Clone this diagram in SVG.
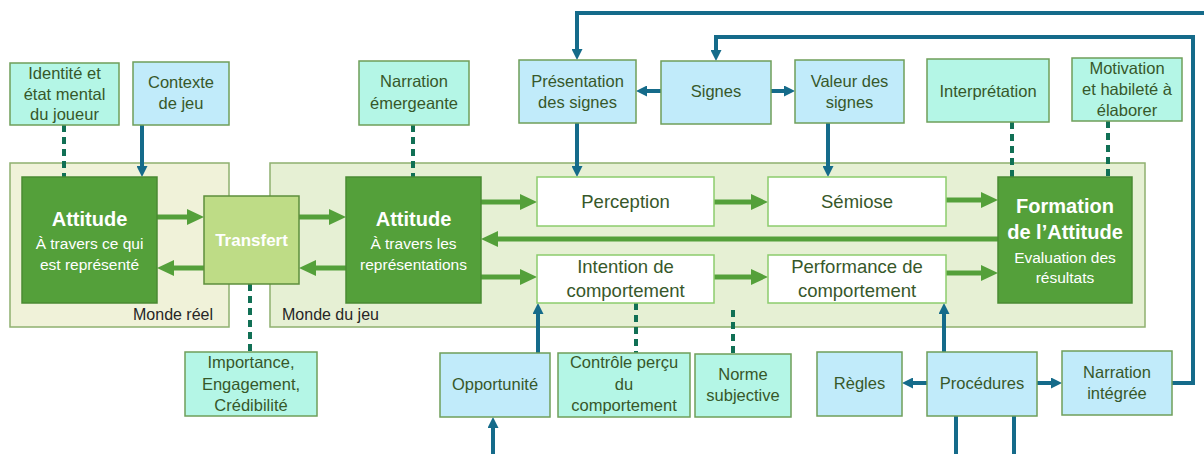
<svg xmlns="http://www.w3.org/2000/svg" width="1204" height="454" viewBox="0 0 1204 454">
<style>
text{font-family:"Liberation Sans",Arial,sans-serif;text-anchor:middle}
.mint{fill:#b4f6e6;stroke:#6f9f5a;stroke-width:1.5}
.blue{fill:#c1ebfa;stroke:#6f9f5a;stroke-width:1.5}
.dark{fill:#54a03a;stroke:#4a8a33;stroke-width:1.5}
.white{fill:#ffffff;stroke:#8ccc6c;stroke-width:1.5}
.t{font-size:16.5px;fill:#37582a}
.m{font-size:18.5px;fill:#37582a}
.h{font-size:20px;font-weight:bold;fill:#ffffff}
.s{font-size:15.5px;fill:#ffffff}
.lbl{font-size:16px;fill:#262626;text-anchor:start}
.g{stroke:#54a03a;stroke-width:5;fill:none}
.b{stroke:#156b8a;stroke-width:4;fill:none}
.d{stroke:#117055;stroke-width:4;fill:none;stroke-dasharray:7 5}
</style>
<defs>
<marker id="ag" markerUnits="userSpaceOnUse" markerWidth="17" markerHeight="16" viewBox="0 0 17 16" refX="1" refY="8" orient="auto"><path d="M0,0 L17,8 L0,16 z" fill="#54a03a"/></marker>
<marker id="ab" markerUnits="userSpaceOnUse" markerWidth="11" markerHeight="11" viewBox="0 0 11 11" refX="1" refY="5.5" orient="auto"><path d="M0,0 L11,5.5 L0,11 z" fill="#156b8a"/></marker>
</defs>
<g id="monde-reel"><rect x="10" y="163" width="219" height="164" fill="#f0f2d9" stroke="#8fb06f" stroke-width="1.5"/><text class="lbl" x="133" y="320">Monde réel</text></g>
<g id="monde-jeu"><rect x="270" y="163" width="875" height="164" fill="#e6f0d4" stroke="#8fb06f" stroke-width="1.5"/><text class="lbl" x="282" y="320">Monde du jeu</text></g>
<g id="connectors">
<path class="g" d="M157,217 H188" marker-end="url(#ag)"/>
<path class="g" d="M204,268 H173" marker-end="url(#ag)"/>
<path class="g" d="M299,217 H330" marker-end="url(#ag)"/>
<path class="g" d="M346,268 H315" marker-end="url(#ag)"/>
<path class="g" d="M481,202 H521" marker-end="url(#ag)"/>
<path class="g" d="M481,277 H521" marker-end="url(#ag)"/>
<path class="g" d="M714,202 H752" marker-end="url(#ag)"/>
<path class="g" d="M714,277 H752" marker-end="url(#ag)"/>
<path class="g" d="M946,200 H982" marker-end="url(#ag)"/>
<path class="g" d="M946,273 H982" marker-end="url(#ag)"/>
<path class="g" d="M998,239 H497" marker-end="url(#ag)"/>
<path class="b" d="M142,125 V167" marker-end="url(#ab)"/>
<path class="b" d="M577,123 V167" marker-end="url(#ab)"/>
<path class="b" d="M828,123 V167" marker-end="url(#ab)"/>
<path class="b" d="M661,91 H646" marker-end="url(#ab)"/>
<path class="b" d="M771,91 H785" marker-end="url(#ab)"/>
<path class="b" d="M1204,13 H577 V50" marker-end="url(#ab)"/>
<path class="b" d="M1172,383 H1193 V37 H716 V51" marker-end="url(#ab)"/>
<path class="b" d="M538,353 V313" marker-end="url(#ab)"/>
<path class="b" d="M493,454 V427" marker-end="url(#ab)"/>
<path class="b" d="M944,352 V313" marker-end="url(#ab)"/>
<path class="b" d="M927,383 H912" marker-end="url(#ab)"/>
<path class="b" d="M1037,383 H1052" marker-end="url(#ab)"/>
<path class="b" d="M956,416 V454"/>
<path class="b" d="M1014,416 V454"/>
<path class="d" d="M64,125 V177"/>
<path class="d" d="M413,125 V177"/>
<path class="d" d="M1012,122 V177"/>
<path class="d" d="M1108,121 V177"/>
<path class="d" d="M250,284 V352"/>
<path class="d" d="M636,303 V353"/>
<path class="d" d="M733,310 V356"/>
</g>
<g id="identite"><rect class="mint" x="10" y="63" width="109" height="62"/><text class="t" x="64.5" y="79">Identité et</text><text class="t" x="64.5" y="100">état mental</text><text class="t" x="64.5" y="120">du joueur</text></g>
<g id="contexte"><rect class="blue" x="133" y="62" width="96" height="63"/><text class="t" x="181" y="88">Contexte</text><text class="t" x="181" y="109">de jeu</text></g>
<g id="narration-emergeante"><rect class="mint" x="359" y="61" width="110" height="64"/><text class="t" x="414" y="87">Narration</text><text class="t" x="414" y="109">émergeante</text></g>
<g id="presentation"><rect class="blue" x="519" y="60" width="117" height="63"/><text class="t" x="577.5" y="87">Présentation</text><text class="t" x="577.5" y="108">des signes</text></g>
<g id="signes"><rect class="blue" x="661" y="61" width="110" height="63"/><text class="t" x="716" y="97">Signes</text></g>
<g id="valeur"><rect class="blue" x="795" y="60" width="109" height="63"/><text class="t" x="849.5" y="87">Valeur des</text><text class="t" x="849.5" y="108">signes</text></g>
<g id="interpretation"><rect class="mint" x="927" y="59" width="122" height="63"/><text class="t" x="988" y="97">Interprétation</text></g>
<g id="motivation"><rect class="mint" x="1072" y="58" width="110" height="63"/><text class="t" x="1127" y="74">Motivation</text><text class="t" x="1127" y="95">et habileté à</text><text class="t" x="1127" y="116">élaborer</text></g>
<g id="attitude-reel"><rect class="dark" x="22" y="177" width="135" height="126"/><text class="h" x="89.5" y="226">Attitude</text><text class="s" x="89.5" y="249">À travers ce qui</text><text class="s" x="89.5" y="270">est représenté</text></g>
<g id="transfert"><rect x="204" y="196" width="95" height="88" fill="#bedc86" stroke="#5d8f3c" stroke-width="1.5"/><text x="251.5" y="246" style="font-size:17px;font-weight:bold;fill:#ffffff">Transfert</text></g>
<g id="attitude-jeu"><rect class="dark" x="346" y="177" width="135" height="126"/><text class="h" x="413.5" y="226">Attitude</text><text class="s" x="413.5" y="249">À travers les</text><text class="s" x="413.5" y="270">représentations</text></g>
<g id="perception"><rect class="white" x="537" y="177" width="177" height="49"/><text class="m" x="625.5" y="208">Perception</text></g>
<g id="intention"><rect class="white" x="537" y="255" width="177" height="48"/><text class="m" x="625.5" y="273">Intention de</text><text class="m" x="625.5" y="297">comportement</text></g>
<g id="semiose"><rect class="white" x="768" y="177" width="178" height="49"/><text class="m" x="857" y="208">Sémiose</text></g>
<g id="performance"><rect class="white" x="768" y="255" width="178" height="48"/><text class="m" x="857" y="273">Performance de</text><text class="m" x="857" y="297">comportement</text></g>
<g id="formation"><rect class="dark" x="998" y="177" width="134" height="126"/><text class="h" x="1065" y="213">Formation</text><text class="h" x="1065" y="239">de l’Attitude</text><text class="s" x="1065" y="263">Evaluation des</text><text class="s" x="1065" y="283">résultats</text></g>
<g id="importance"><rect class="mint" x="185" y="352" width="132" height="64"/><text class="t" x="251" y="368">Importance,</text><text class="t" x="251" y="390">Engagement,</text><text class="t" x="251" y="411">Crédibilité</text></g>
<g id="opportunite"><rect class="blue" x="440" y="353" width="110" height="64"/><text class="t" x="495" y="390">Opportunité</text></g>
<g id="controle"><rect class="mint" x="558" y="353" width="132" height="64"/><text class="t" x="624" y="368">Contrôle perçu</text><text class="t" x="624" y="390">du</text><text class="t" x="624" y="411">comportement</text></g>
<g id="norme"><rect class="mint" x="695" y="354" width="96" height="63"/><text class="t" x="743" y="380">Norme</text><text class="t" x="743" y="401">subjective</text></g>
<g id="regles"><rect class="blue" x="817" y="352" width="85" height="64"/><text class="t" x="859.5" y="389">Règles</text></g>
<g id="procedures"><rect class="blue" x="927" y="352" width="110" height="64"/><text class="t" x="982" y="389">Procédures</text></g>
<g id="narration-integree"><rect class="blue" x="1062" y="351" width="110" height="64"/><text class="t" x="1117" y="378">Narration</text><text class="t" x="1117" y="399">intégrée</text></g>
</svg>
